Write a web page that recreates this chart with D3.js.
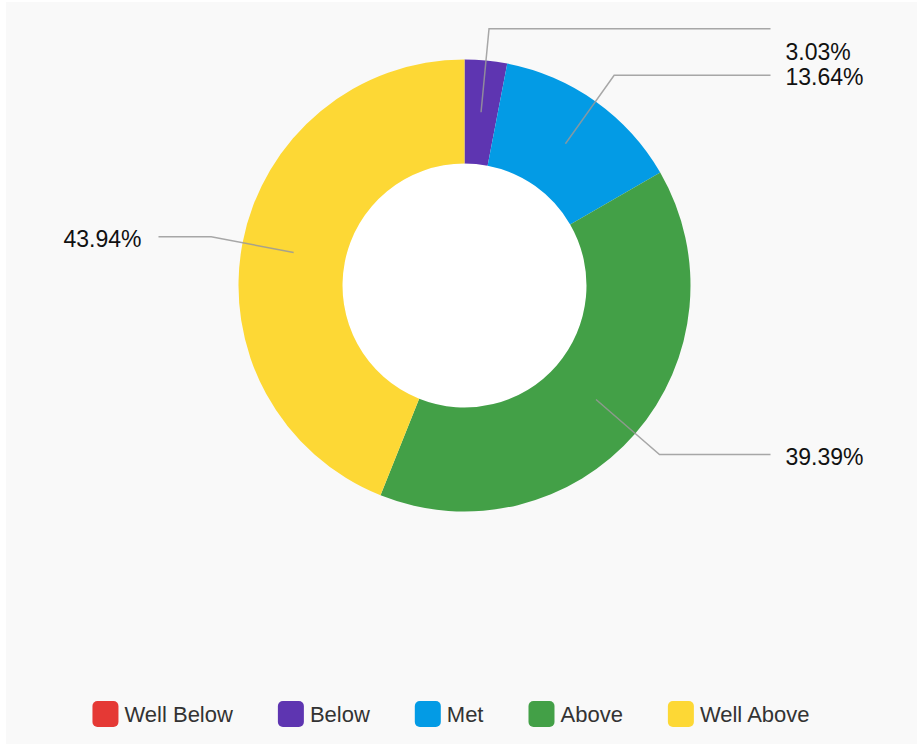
<!DOCTYPE html>
<html>
<head>
<meta charset="utf-8">
<script src="https://cdn.jsdelivr.net/npm/d3@7"></script>
<style>
  html, body { margin: 0; padding: 0; background: #fff; }
  svg { display: block; }
</style>
</head>
<body>
<svg id="chart"></svg>
<script>
// data
const categories = ["Well Below", "Below", "Met", "Above", "Well Above"];
const counts = [0, 2, 9, 26, 29];
const percents = [0, 3.03, 13.64, 39.39, 43.94];
const colors = ["#E53935", "#5E35B1", "#039BE5", "#43A047", "#FDD835"];

const w = 917;
const h = 744;
const cx = 464.5;
const cy = 285.5;
const outerR = 226;
const innerR = 122;

const svg = d3.select("#chart").attr("width", w).attr("height", h);

// panel background
svg.append("rect")
  .attr("x", 6).attr("y", 2)
  .attr("width", w - 6).attr("height", h - 2)
  .attr("fill", "#f9f9f9");

const g = svg.append("g").attr("transform", "translate(" + cx + "," + cy + ")");

const rows = categories.map((c, i) => ({ name: c, value: counts[i], pct: percents[i], color: colors[i] }));

const pie = d3.pie().sort(null).value(d => d.value);
const arcs = pie(rows);

const arc = d3.arc().innerRadius(innerR).outerRadius(outerR);
const mid = d3.arc().innerRadius((innerR + outerR) / 2).outerRadius((innerR + outerR) / 2);
const elbow = d3.arc().innerRadius(258).outerRadius(258);

// hole
g.append("circle").attr("r", innerR).attr("fill", "#fff");

g.selectAll("path.slice")
  .data(arcs.filter(d => d.value > 0))
  .enter()
  .append("path")
  .attr("class", "slice")
  .attr("d", arc)
  .attr("fill", d => d.data.color);

// leader lines + labels
const lineEnd = 306;
const labelTop = 52 - cy; // keep labels inside the plot area
const shown = arcs.filter(d => d.value > 0);

shown.forEach(d => {
  const a = (d.startAngle + d.endAngle) / 2;
  const right = a < Math.PI;
  const p0 = mid.centroid(d);
  const p1 = elbow.centroid(d);
  const p2 = [right ? lineEnd : -lineEnd, p1[1]];
  g.append("polyline")
    .attr("points", [p0, p1, p2].map(p => p.join(",")).join(" "))
    .attr("fill", "none")
    .attr("stroke", "#999")
    .attr("stroke-width", 1.5)
    .attr("opacity", 0.85);
  const ty = Math.max(p1[1] + 2, labelTop);
  g.append("text")
    .attr("x", right ? lineEnd + 15 : -lineEnd - 17)
    .attr("y", ty)
    .attr("dy", "0.35em")
    .attr("text-anchor", right ? "start" : "end")
    .attr("font-family", "Liberation Sans, Arial, sans-serif")
    .attr("font-size", 23)
    .attr("fill", "#111")
    .text(d.data.pct.toFixed(2) + "%");
});

// legend
const legend = svg.append("g");
const sw = 26, gapIn = 6, gapOut = 45;
let x = 0;
rows.forEach(r => {
  const item = legend.append("g").attr("transform", "translate(" + x + ",0)");
  item.append("rect")
    .attr("width", sw).attr("height", sw)
    .attr("rx", 5).attr("ry", 5)
    .attr("fill", r.color);
  const t = item.append("text")
    .attr("x", sw + gapIn)
    .attr("y", sw / 2)
    .attr("dy", "0.35em")
    .attr("font-family", "Liberation Sans, Arial, sans-serif")
    .attr("font-size", 22)
    .attr("fill", "#333")
    .text(r.name);
  x += sw + gapIn + t.node().getComputedTextLength() + gapOut;
});
const total = x - gapOut;
legend.attr("transform", "translate(" + (451 - total / 2) + "," + 701 + ")");
</script>
</body>
</html>
